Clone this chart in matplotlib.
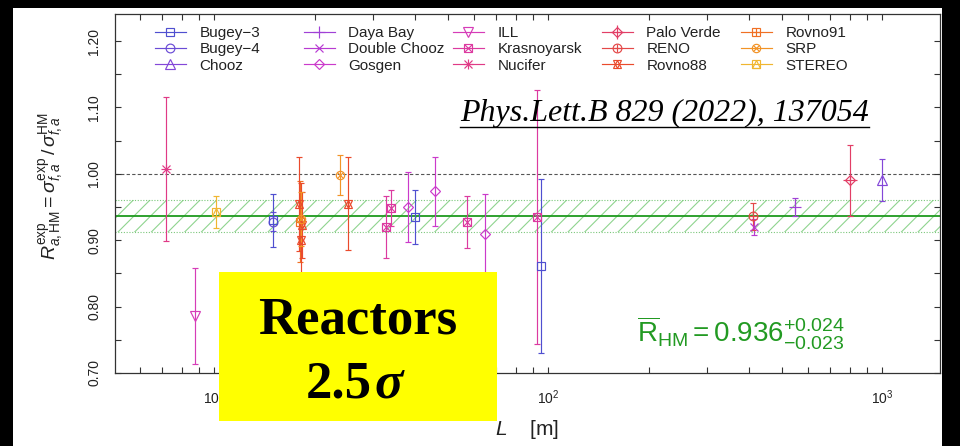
import matplotlib
matplotlib.use("Agg")
import matplotlib.pyplot as plt
from matplotlib.lines import Line2D
from matplotlib.patches import Rectangle
from matplotlib.legend import Legend
from matplotlib.legend_handler import HandlerTuple
from matplotlib.ticker import MultipleLocator, LogLocator, NullFormatter, FormatStrFormatter

plt.rcParams['font.family'] = ['Liberation Sans', 'DejaVu Sans']
plt.rcParams['mathtext.fontset'] = 'custom'
plt.rcParams['mathtext.rm'] = 'Liberation Sans'
plt.rcParams['mathtext.it'] = 'Liberation Sans:italic'
plt.rcParams['mathtext.bf'] = 'Liberation Sans:bold'
plt.rcParams['mathtext.sf'] = 'Liberation Sans'
plt.rcParams['hatch.linewidth'] = 0.8

# ---- experiments, colours and symbols -------------------------------------
experiments = ["Bugey-3", "Bugey-4", "Chooz", "Daya Bay", "Double Chooz", "Gosgen",
               "ILL", "Krasnoyarsk", "Nucifer", "Palo Verde", "RENO", "Rovno88",
               "Rovno91", "SRP", "STEREO"]
legend_labels = ["Bugey\u22123", "Bugey\u22124", "Chooz", "Daya Bay", "Double Chooz", "Gosgen",
                 "ILL", "Krasnoyarsk", "Nucifer", "Palo Verde", "RENO", "Rovno88",
                 "Rovno91", "SRP", "STEREO"]
exp_colors = ["#4f4fd0", "#6a4bd6", "#8447d8", "#a041d6", "#b83ad2", "#cb3acb",
              "#d63cb8", "#dc3aa0", "#e03a86", "#e23e66", "#e44848", "#ea4a2c",
              "#f07024", "#f29326", "#f0b630"]
# each symbol is a stack of (marker, relative size)
exp_symbols = [
    [("s", 1.0)],
    [("o", 1.05)],
    [("^", 1.1)],
    [("+", 1.4)],
    [("x", 1.0)],
    [("D", 0.85)],
    [("v", 1.1)],
    [("s", 1.0), ("x", 1.0)],
    [("+", 1.3), ("x", 1.0)],
    [("D", 0.85), ("+", 1.6)],
    [("o", 1.05), ("+", 1.05)],
    [("^", 1.05), ("v", 1.05)],
    [("s", 1.0), ("+", 1.0)],
    [("o", 1.0), ("x", 0.75)],
    [("s", 1.0), ("^", 1.0)],
]

# ---- measurements: experiment, baseline L [m], ratio R, uncertainty ---------
point_exp = ["Nucifer", "ILL", "STEREO", "Bugey-4", "Bugey-3", "Rovno91",
             "Rovno88", "Rovno88", "Rovno88", "SRP", "SRP", "Rovno88",
             "Krasnoyarsk", "Krasnoyarsk", "Gosgen", "Bugey-3", "Gosgen",
             "Krasnoyarsk", "Gosgen", "Krasnoyarsk", "Bugey-3",
             "Double Chooz", "RENO", "Daya Bay", "Palo Verde", "Chooz"]
point_L = [7.2, 8.76, 10.1, 15.0, 15.0, 18.1,
           18.0, 18.2, 18.3, 18.2, 23.8, 25.2,
           32.8, 33.9, 38.0, 40.0, 45.9,
           57.0, 64.7, 92.3, 95.0,
           414.0, 411.0, 550.0, 800.0, 1000.0]
point_R = [1.007, 0.786, 0.942, 0.928, 0.930, 0.928,
           0.955, 0.901, 0.923, 0.932, 0.998, 0.955,
           0.920, 0.948, 0.950, 0.935, 0.974,
           0.927, 0.910, 0.935, 0.861,
           0.920, 0.936, 0.950, 0.990, 0.991]
point_err = [0.108, 0.072, 0.024, 0.014, 0.040, 0.061,
             0.071, 0.085, 0.050, 0.040, 0.030, 0.070,
             0.047, 0.027, 0.052, 0.040, 0.052,
             0.039, 0.059, 0.191, 0.131,
             0.012, 0.020, 0.014, 0.054, 0.032]

# ---- global average ---------------------------------------------------------
r_mean = 0.936
r_up = 0.024
r_down = 0.023

W, H = 960, 446
fig = plt.figure(figsize=(W / 100, H / 100), dpi=100, facecolor="black")
fig.add_artist(Rectangle((13 / W, 0), (942 - 13) / W, (H - 8) / H,
                         transform=fig.transFigure, facecolor="white",
                         edgecolor="none", zorder=-10))

ax = fig.add_axes([115 / W, (H - 373) / H, (940 - 115) / W, (373 - 14) / H])
ax.set_facecolor("white")
ax.set_xscale("log")
ax.set_xlim(5.05, 1490)
ax.set_ylim(0.70, 1.2407)

# average band
ax.axhspan(r_mean - r_down, r_mean + r_up, facecolor="none", edgecolor="#8fd48f",
           hatch="//", linewidth=0, zorder=1)
ax.axhline(r_mean + r_up, color="#7cc87c", lw=0.8, ls=(0, (1, 1.5)), zorder=1.2)
ax.axhline(r_mean - r_down, color="#7cc87c", lw=0.8, ls=(0, (1, 1.5)), zorder=1.2)
ax.axhline(r_mean, color="#1e9a1e", lw=1.3, zorder=1.5)
ax.axhline(1.0, color="#555555", lw=0.8, ls=(0, (3, 2)), zorder=1.4)

MS = 6.0
MEW = 0.85


def symbol_of(name):
    i = experiments.index(name)
    return exp_colors[i], exp_symbols[i]


for name, L, R, e in zip(point_exp, point_L, point_R, point_err):
    c, sym = symbol_of(name)
    ax.errorbar([L], [R], yerr=[e], fmt="none", ecolor=c, elinewidth=0.85,
                capsize=2.3, capthick=0.85, zorder=3)
    for m, s in sym:
        ax.plot([L], [R], linestyle="none", marker=m, ms=MS * s, mfc="none",
                mec=c, mew=MEW, zorder=4)

# axes styling
for sp in ax.spines.values():
    sp.set_color("#333333")
    sp.set_linewidth(0.9)
ax.yaxis.set_major_locator(MultipleLocator(0.1))
ax.yaxis.set_minor_locator(MultipleLocator(0.05))
ax.yaxis.set_major_formatter(FormatStrFormatter("%.2f"))
ax.xaxis.set_major_locator(LogLocator(base=10))
ax.xaxis.set_minor_locator(LogLocator(base=10, subs=range(2, 10)))
ax.xaxis.set_minor_formatter(NullFormatter())
ax.tick_params(which="both", direction="in", top=True, right=True,
               length=4, width=0.8, color="#333333")
ax.tick_params(axis="y", labelrotation=90, labelsize=10, pad=10, labelcolor="#222222")
ax.tick_params(axis="x", labelsize=10, pad=11, labelcolor="#222222")
for lab in ax.get_yticklabels():
    lab.set_va("center")

ax.set_ylabel(r"$R^{\mathrm{exp}}_{a,\mathrm{HM}} = \sigma^{\mathrm{exp}}_{f,a}\,/\,\sigma^{\mathrm{HM}}_{f,a}$",
              fontsize=14, color="#222222")
ax.yaxis.set_label_coords(-0.060, 0.52)
ax.set_xlabel(r"$L$" + "    [m]", fontsize=15, color="#222222")
ax.xaxis.set_label_coords(0.5, -0.125)

# legend: five fixed columns of three entries
col_x = [155, 304, 453, 602, 741]
for col in range(5):
    handles, labels = [], []
    for k in range(3 * col, 3 * col + 3):
        c = exp_colors[k]
        parts = []
        for j, (m, s) in enumerate(exp_symbols[k]):
            parts.append(Line2D([], [], color=c, lw=0.85 if j == 0 else 0,
                                ls="-" if j == 0 else "none", marker=m, ms=MS * s,
                                mfc="none", mec=c, mew=MEW))
        handles.append(tuple(parts))
        labels.append(legend_labels[k])
    leg = Legend(ax, handles, labels, loc="upper left",
                 bbox_to_anchor=(col_x[col] / W, 1 - 26 / H),
                 bbox_transform=fig.transFigure, frameon=False, fontsize=11,
                 handlelength=2.0, handletextpad=0.9, labelspacing=0.15,
                 borderpad=0, borderaxespad=0,
                 handler_map={tuple: HandlerTuple(ndivide=1, pad=0)})
    for t in leg.get_texts():
        t.set_color("#222222")
    ax.add_artist(leg)

# average value annotation
ax.text(637, H - 343, r"$\overline{\mathrm{R}}_{\mathrm{HM}} = 0.936^{+0.024}_{-0.023}$",
        transform=None, fontsize=20, color="#229a22", ha="left", va="baseline", zorder=6)

# reference
ref = fig.text(460 / W, 1 - 121 / H, "Phys.Lett.B 829 (2022), 137054",
               fontsize=23, family="Liberation Serif", style="italic",
               color="black", ha="left", va="baseline", zorder=8)

# highlight box
fig.add_artist(Rectangle((219 / W, 1 - 421 / H), (497 - 219) / W, (421 - 272) / H,
                         transform=fig.transFigure, facecolor="#ffff00",
                         edgecolor="none", zorder=10))
fig.text(358 / W, 1 - 333 / H, "Reactors", fontsize=38, family="Liberation Serif",
         weight="bold", color="black", ha="center", va="baseline", zorder=11)
fig.text(372 / W, 1 - 397 / H, "2.5", fontsize=38, family="Liberation Serif",
         weight="bold", color="black", ha="right", va="baseline", zorder=11)
fig.text(374 / W, 1 - 397 / H, "\u03c3", fontsize=38, family="Liberation Serif",
         weight="bold", style="italic", color="black", ha="left", va="baseline", zorder=11)

# underline the reference
fig.canvas.draw()
bb = ref.get_window_extent()
uy = bb.y0 + 1.5
fig.add_artist(Line2D([bb.x0 / W, bb.x1 / W], [uy / H, uy / H], transform=fig.transFigure,
                      color="black", lw=1.0, zorder=8))

fig.savefig("out.png", dpi=100, facecolor=fig.get_facecolor())
